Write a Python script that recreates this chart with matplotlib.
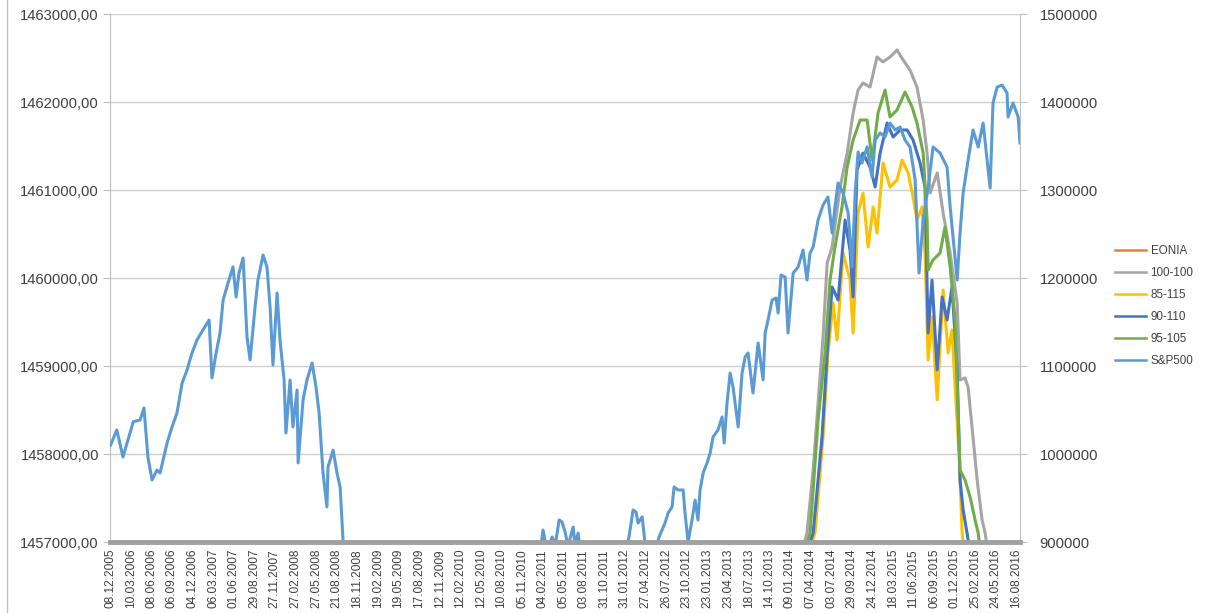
import matplotlib
matplotlib.use("Agg")
import matplotlib.pyplot as plt
from matplotlib.ticker import FuncFormatter, FixedLocator
from matplotlib.lines import Line2D

plt.rcParams['font.family'] = ['Liberation Sans', 'DejaVu Sans']

# ---------------- data ----------------
# x positions are in "label steps" (one step = one x-axis label, ~quarterly)
tick_labels = [
    "08.12.2005", "10.03.2006", "08.06.2006", "06.09.2006", "04.12.2006",
    "06.03.2007", "01.06.2007", "29.08.2007", "27.11.2007", "27.02.2008",
    "27.05.2008", "21.08.2008", "18.11.2008", "19.02.2009", "19.05.2009",
    "17.08.2009", "12.11.2009", "12.02.2010", "12.05.2010", "10.08.2010",
    "05.11.2010", "04.02.2011", "05.05.2011", "03.08.2011", "31.10.2011",
    "31.01.2012", "27.04.2012", "26.07.2012", "23.10.2012", "23.01.2013",
    "23.04.2013", "18.07.2013", "14.10.2013", "09.01.2014", "07.04.2014",
    "03.07.2014", "29.09.2014", "24.12.2014", "18.03.2015", "11.06.2015",
    "06.09.2015", "01.12.2015", "25.02.2016", "24.05.2016", "16.08.2016",
]

# values in thousands (right axis)
sp500_t = [0.03, 0.33, 0.63, 1.13, 1.46, 1.65, 1.84, 2.04, 2.28, 2.43, 2.77, 3.01, 3.25,
           3.50, 3.74, 3.98, 4.22, 4.51, 4.81, 4.95, 5.15, 5.34, 5.49, 5.73, 5.97, 6.12,
           6.26, 6.46, 6.65, 6.80, 7.04, 7.18, 7.43, 7.62, 7.77, 7.91, 8.11, 8.25, 8.45,
           8.54, 8.74, 8.88, 9.08, 9.13, 9.37, 9.56, 9.81, 10.00, 10.15, 10.34, 10.53,
           10.58, 10.83, 11.02, 11.17, 11.31,
           11.6, 12.3, 13.4, 14.5, 16.0, 17.5, 19.0, 20.5, 20.83,
           21.02, 21.21, 21.46, 21.60, 21.80, 21.94, 22.09, 22.23, 22.48, 22.57, 22.72, 22.86,
           24.0, 25.0, 25.19, 25.39, 25.53, 25.63, 25.83, 25.97, 26.21, 26.50, 26.65,
           26.94, 27.09, 27.28, 27.38, 27.57, 27.82, 27.91, 28.06, 28.25, 28.40, 28.54,
           28.64, 28.79, 28.98, 29.13, 29.27, 29.51, 29.71, 29.81, 29.95, 30.10, 30.24,
           30.49, 30.68, 30.83, 30.97, 31.21, 31.46, 31.70, 31.80, 31.94, 32.14, 32.33,
           32.43, 32.57, 32.77, 32.91, 33.16, 33.40, 33.64, 33.83, 33.98, 34.13, 34.37,
           34.61, 34.85, 35.05, 35.19, 35.34, 35.58, 35.83, 36.02, 36.17, 36.31, 36.50,
           36.75, 36.99, 37.14, 37.38, 37.62, 37.86, 38.11, 38.35, 38.59, 38.83, 39.08,
           39.27, 39.47, 39.71, 39.95, 40.29, 40.63, 40.78, 40.92, 41.12, 41.26, 41.41,
           41.65, 41.89, 42.14, 42.38, 42.72, 42.86, 43.06, 43.30, 43.54, 43.59, 43.83,
           44.08, 44.17]
sp500_v = [1010.2, 1027.3, 996.6, 1036.7, 1038.6, 1052.3, 996.6, 970.5, 981.8, 978.4, 1012.5,
           1030.7, 1046.6, 1080.7, 1095.5, 1114.8, 1129.5, 1140.9, 1152.3, 1086.4, 1114.8,
           1137.5, 1175.0, 1194.3, 1212.5, 1178.4, 1205.7, 1222.7, 1132.9, 1106.8, 1167.0,
           1197.7, 1226.1, 1212.5, 1167.0, 1101.1, 1182.9, 1129.5, 1084.1, 1023.9, 1084.1,
           1030.7, 1072.7, 989.8, 1061.4, 1084.1, 1103.4, 1076.1, 1046.6, 978.4, 939.8,
           985.2, 1004.5, 978.4, 962.5, 902.3,
           860, 780, 690, 720, 780, 820, 850, 870, 880,
           913.6, 890, 905.7, 895, 925.0, 922.7, 911.4, 895, 917.0, 897, 910.2, 885,
           870, 890, 905.7, 936.4, 934.1, 921.6, 928.4, 898.9, 885, 893, 905.7,
           921.6, 933.0, 939.8, 962.5, 959.1, 959.1, 933.0, 900.0, 925.0, 947.7, 925.0,
           959.1, 978.4, 989.8, 1001.1, 1019.3, 1027.3, 1042.0, 1012.5, 1058.0, 1092.0, 1076.1,
           1030.7, 1092.0, 1110.2, 1114.8, 1069.3, 1126.1, 1084.1, 1137.5, 1152.3, 1175.0, 1177.3,
           1160.2, 1203.4, 1201.1, 1137.5, 1205.7, 1212.5, 1231.8, 1197.7, 1228.4, 1235.2, 1265.9,
           1283.0, 1292.0, 1251.1, 1280.7, 1308.0, 1296.6, 1273.9, 1212.5, 1296.6, 1343.2, 1330.7,
           1348.9, 1314.8, 1356.8, 1364.8, 1360.2, 1376.1, 1368.2, 1371.6, 1356.8, 1348.9, 1311.4,
           1205.7, 1265.9, 1303.4, 1348.9, 1342.0, 1326.1, 1280.7, 1246.6, 1197.7, 1251.1, 1296.6,
           1334.1, 1368.2, 1348.9, 1376.1, 1302.3, 1398.9, 1417.0, 1419.3, 1410.2, 1383.0, 1398.9,
           1383.0, 1353.4]

s100_t = [33.5, 33.83, 34.13, 34.37, 34.61, 34.81, 35.05, 35.44, 35.78, 36.07, 36.31, 36.55,
          36.89, 37.23, 37.52, 37.86, 38.20, 38.50, 38.83, 39.17, 39.47, 39.66, 39.81, 40.15,
          40.44, 40.78, 41.12, 41.26, 41.50, 41.65, 41.84, 42.09, 42.33, 42.48, 42.7]
s100_v = [880, 910.2, 981.8, 1058.0, 1133.0, 1217.0, 1235.2, 1303.4, 1342.0, 1387.5, 1413.6,
          1421.6, 1417.0, 1451.1, 1445.5, 1451.1, 1459.1, 1447.7, 1436.4, 1417.0, 1379.5,
          1342.0, 1296.6, 1319.3, 1273.9, 1228.4, 1171.6, 1084.1, 1086.4, 1076.1, 1030.7,
          970.5, 925.0, 910.2, 870]

s85_t = [33.8, 34.22, 34.61, 34.85, 35.10, 35.29, 35.58, 35.92, 36.07, 36.31, 36.55, 36.80,
         37.04, 37.23, 37.52, 37.86, 38.20, 38.45, 38.74, 38.98, 39.17, 39.42, 39.56, 39.71,
         39.90, 40.15, 40.44, 40.68, 40.87, 41.02, 41.21, 41.36, 41.5]
s85_v = [880, 910.2, 1019.3, 1114.8, 1171.6, 1129.5, 1228.4, 1197.7, 1137.5, 1273.9, 1296.6,
         1235.2, 1280.7, 1251.1, 1330.7, 1303.4, 1311.4, 1334.1, 1319.3, 1292.0, 1265.9,
         1280.7, 1228.4, 1106.8, 1155.7, 1061.4, 1186.4, 1114.8, 1140.9, 1076.1, 1001.1,
         910.2, 880]

s90_t = [33.7, 34.13, 34.56, 34.81, 35.05, 35.34, 35.68, 35.92, 36.07, 36.26, 36.55, 36.89,
         37.14, 37.38, 37.72, 38.01, 38.35, 38.69, 38.98, 39.32, 39.56, 39.71, 39.90, 40.15,
         40.39, 40.63, 40.87, 41.12, 41.26, 41.41, 41.60, 41.8]
s90_v = [880, 910.2, 1019.3, 1114.8, 1189.8, 1175.0, 1265.9, 1231.8, 1178.4, 1322.7, 1342.0,
         1326.1, 1303.4, 1342.0, 1376.1, 1360.2, 1368.2, 1368.2, 1356.8, 1330.7, 1303.4,
         1137.5, 1197.7, 1095.5, 1178.4, 1152.3, 1189.8, 1095.5, 970.5, 936.4, 910.2, 880]

s95_t = [33.6, 33.98, 34.37, 34.71, 34.95, 35.19, 35.53, 35.78, 36.07, 36.41, 36.75, 36.99,
         37.28, 37.62, 37.86, 38.20, 38.59, 38.93, 39.17, 39.47, 39.66, 39.71, 39.95, 40.29,
         40.53, 40.78, 41.02, 41.26, 41.50, 41.75, 41.99, 42.14, 42.3]
s95_v = [880, 910.2, 1038.6, 1114.8, 1197.7, 1235.2, 1280.7, 1326.1, 1356.8, 1379.5, 1379.5,
         1334.1, 1387.5, 1413.6, 1383.0, 1390.9, 1411.4, 1394.3, 1376.1, 1342.0, 1265.9,
         1209.1, 1220.5, 1228.4, 1258.0, 1212.5, 1152.3, 981.8, 970.5, 951.1, 925.0, 910.2, 880]

eonia_t = []
eonia_v = []

series = [
    ("100-100", s100_t, s100_v, "#A5A5A5"),
    ("85-115", s85_t, s85_v, "#FFC000"),
    ("90-110", s90_t, s90_v, "#4472C4"),
    ("95-105", s95_t, s95_v, "#70AD47"),
    ("S&P500", sp500_t, sp500_v, "#5B9BD5"),
]

# ---------------- figure ----------------
W, H = 1211, 613
fig = plt.figure(figsize=(W / 100, H / 100), dpi=100)
ax = fig.add_axes([110 / W, 1 - 542 / H, (1020 - 110) / W, (542 - 14) / H])
ax2 = ax.twinx()

grid_c = "#D0D0D0"
axis_c = "#BFBFBF"
text_c = "#404040"

ax.set_ylim(1457000, 1463000)
ax.set_yticks(range(1457000, 1463001, 1000))
ax.yaxis.set_major_formatter(FuncFormatter(lambda v, p: f"{v:.2f}".replace(".", ",")))
ax.grid(axis="y", color=grid_c, linewidth=1.0)
ax.set_axisbelow(True)

ax2.set_ylim(900, 1500)
ax2.set_yticks(range(900, 1501, 100))
ax2.yaxis.set_major_formatter(FuncFormatter(lambda v, p: f"{int(round(v * 1000))}"))

ax.set_xlim(0, 44.17)
ax.xaxis.set_major_locator(FixedLocator(list(range(len(tick_labels)))))
ax.set_xticklabels(tick_labels, rotation=90, fontsize=8.6, color=text_c)
ax.tick_params(axis="x", length=0, pad=5)
ax.tick_params(axis="y", length=5, color=axis_c, labelsize=10.6, labelcolor=text_c, pad=3)
ax2.tick_params(axis="y", length=5, color=axis_c, labelsize=10.6, labelcolor=text_c, pad=9)

for a in (ax, ax2):
    a.spines["top"].set_visible(False)
ax2.spines["left"].set_visible(False)
ax2.spines["bottom"].set_visible(False)
ax.spines["right"].set_visible(False)
ax.spines["left"].set_color(axis_c)
ax2.spines["right"].set_color(axis_c)
ax.spines["bottom"].set_visible(False)

ax.plot(eonia_t, eonia_v, color="#ED7D31", linewidth=2.0, label="EONIA")
for name, t, v, c in series:
    ax2.plot(t, v, color=c, linewidth=2.2, label=name, solid_joinstyle="round")

# thick grey category axis line at the bottom
ax2.axhline(900, color="#A0A0A0", linewidth=3.5, zorder=5, clip_on=False)

handles = [Line2D([], [], color="#ED7D31", linewidth=1.8)] + \
          [Line2D([], [], color=c, linewidth=1.8) for _, _, _, c in series]
labels = ["EONIA"] + [s[0] for s in series]
fig.legend(handles, labels, loc="center left", bbox_to_anchor=(1104 / W, 1 - 306 / H),
           frameon=False, fontsize=8.4, handlelength=2.7, handletextpad=0.4,
           labelspacing=0.85, labelcolor=text_c)

# outer border line at the far left
fig.add_artist(Line2D([7 / W, 7 / W], [0, 1], color="#BFBFBF", linewidth=1.0))

fig.savefig("out.png", dpi=100)
